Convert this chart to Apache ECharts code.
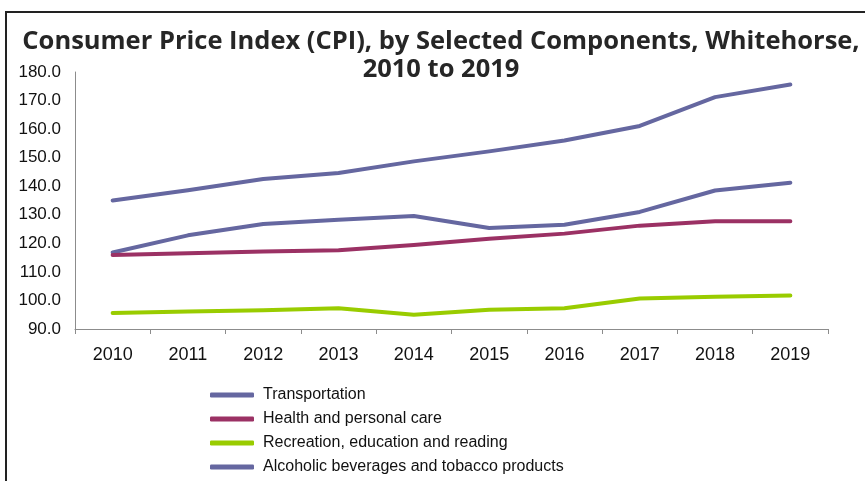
<!DOCTYPE html>
<html>
<head>
<meta charset="utf-8">
<script src="https://cdn.jsdelivr.net/npm/echarts@6/dist/echarts.min.js"></script>
<style>
  html, body { margin: 0; padding: 0; background: #fff; }
  #chart { position: absolute; left: 0; top: 0; width: 865px; height: 481px; }
  #frame {
    position: absolute; left: 5px; top: 11px; width: 900px; height: 500px;
    border-left: 2px solid #222; border-top: 2px solid #222; pointer-events: none;
  }
</style>
</head>
<body>
<div id="chart"></div>
<div id="frame"></div>
<script>
const years = ["2010", "2011", "2012", "2013", "2014", "2015", "2016", "2017", "2018", "2019"];

const transportation = [116.8, 122.8, 126.8, 128.3, 129.6, 125.4, 126.5, 131.0, 138.5, 141.2];
const healthCare = [115.9, 116.5, 117.1, 117.6, 119.4, 121.6, 123.4, 126.2, 127.7, 127.7];
const recreation = [95.6, 96.1, 96.6, 97.3, 95.0, 96.7, 97.3, 100.7, 101.3, 101.7];
const alcoholTobacco = [135.0, 138.6, 142.5, 144.6, 148.7, 152.2, 156.0, 161.1, 171.2, 175.6];

const yTicks = { min: 90, max: 180, step: 10 };

const BLUE = "#6567a0";
const RED = "#9b3164";
const GREEN = "#99cc00";

function lineSeries(name, data, color) {
  return {
    name,
    type: "line",
    data,
    symbol: "none",
    smooth: false,
    lineStyle: { width: 4, color, cap: "round", join: "round" },
    itemStyle: { color },
  };
}

const chart = echarts.init(document.getElementById("chart"), null, { renderer: "canvas" });

chart.setOption({
  animation: false,
  backgroundColor: "#fff",
  title: {
    text: "Consumer Price Index (CPI), by Selected Components, Whitehorse,\n2010 to 2019",
    left: 436,
    textAlign: "center",
    top: 23,
    textStyle: {
      fontFamily: "Open Sans",
      fontWeight: "bold",
      fontSize: 25.5,
      lineHeight: 28,
      color: "#262626",
    },
  },
  grid: { left: 75, right: 37, top: 72, bottom: 152 },
  legend: {
    orient: "vertical",
    left: 210,
    top: 386,
    padding: 0,
    icon: "roundRect",
    itemWidth: 44,
    itemHeight: 5,
    itemGap: 6,
    textStyle: { fontFamily: "Liberation Sans", fontSize: 16, lineHeight: 18, color: "#111", padding: [0, 0, 0, 4] },
    data: ["Transportation", "Health and personal care", "Recreation, education and reading", "Alcoholic beverages and tobacco products"],
  },
  xAxis: {
    type: "category",
    data: years,
    boundaryGap: true,
    axisLine: { lineStyle: { color: "#8c8c8c", width: 1 } },
    axisTick: { show: true, alignWithLabel: false, length: 5, lineStyle: { color: "#8c8c8c" } },
    axisLabel: { fontFamily: "Liberation Sans", fontSize: 18, color: "#111", margin: 17 },
  },
  yAxis: {
    type: "value",
    min: yTicks.min,
    max: yTicks.max,
    interval: yTicks.step,
    axisLine: { show: true, lineStyle: { color: "#8c8c8c", width: 1 } },
    axisTick: { show: false },
    splitLine: { show: false },
    axisLabel: {
      fontFamily: "Liberation Sans",
      fontSize: 17,
      color: "#111",
      margin: 14,
      formatter: (v) => v.toFixed(1),
    },
  },
  series: [
    lineSeries("Transportation", transportation, BLUE),
    lineSeries("Health and personal care", healthCare, RED),
    lineSeries("Recreation, education and reading", recreation, GREEN),
    lineSeries("Alcoholic beverages and tobacco products", alcoholTobacco, BLUE),
  ],
});
</script>
</body>
</html>
